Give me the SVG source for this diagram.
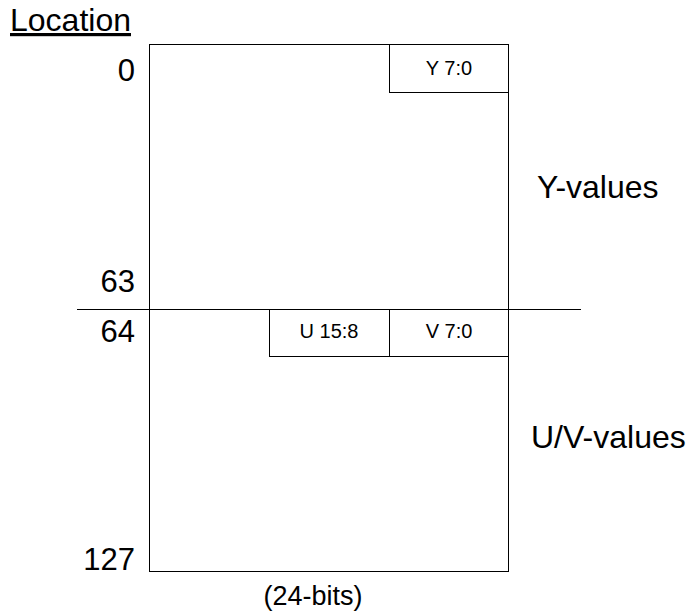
<svg xmlns="http://www.w3.org/2000/svg" width="691" height="613" viewBox="0 0 691 613">
<style>
  text { font-family: "Liberation Sans", Arial, sans-serif; fill: #000; }
  .big { font-size: 32px; }
  .addr { font-size: 31px; text-anchor: end; }
  .cell { font-size: 20px; text-anchor: middle; }
  .box { fill: #fff; stroke: #000; stroke-width: 1; }
</style>
<rect width="691" height="613" fill="#fff"/>
<g id="memory">
  <rect class="box" x="149.5" y="44.5" width="359" height="527"/>
</g>
<g id="cell-y">
  <rect class="box" x="389.5" y="44.5" width="119" height="48"/>
  <text class="cell" x="449" y="75">Y 7:0</text>
</g>
<g id="cell-u">
  <rect class="box" x="269.5" y="309.5" width="120" height="47"/>
  <text class="cell" x="329" y="338">U 15:8</text>
</g>
<g id="cell-v">
  <rect class="box" x="389.5" y="309.5" width="119" height="47"/>
  <text class="cell" x="449" y="338">V 7:0</text>
</g>
<g id="connectors">
  <line x1="77" y1="309.5" x2="581" y2="309.5" stroke="#000" stroke-width="1"/>
</g>
<g id="labels">
  <text class="big" x="10" y="31" text-decoration="underline">Location</text>
  <text class="addr" x="135" y="81">0</text>
  <text class="addr" x="135" y="292">63</text>
  <text class="addr" x="135" y="342">64</text>
  <text class="addr" x="135" y="570">127</text>
  <text class="big" x="537" y="198">Y-values</text>
  <text class="big" x="531" y="448">U/V-values</text>
  <text x="313" y="605" font-size="27" text-anchor="middle">(24-bits)</text>
</g>
</svg>
